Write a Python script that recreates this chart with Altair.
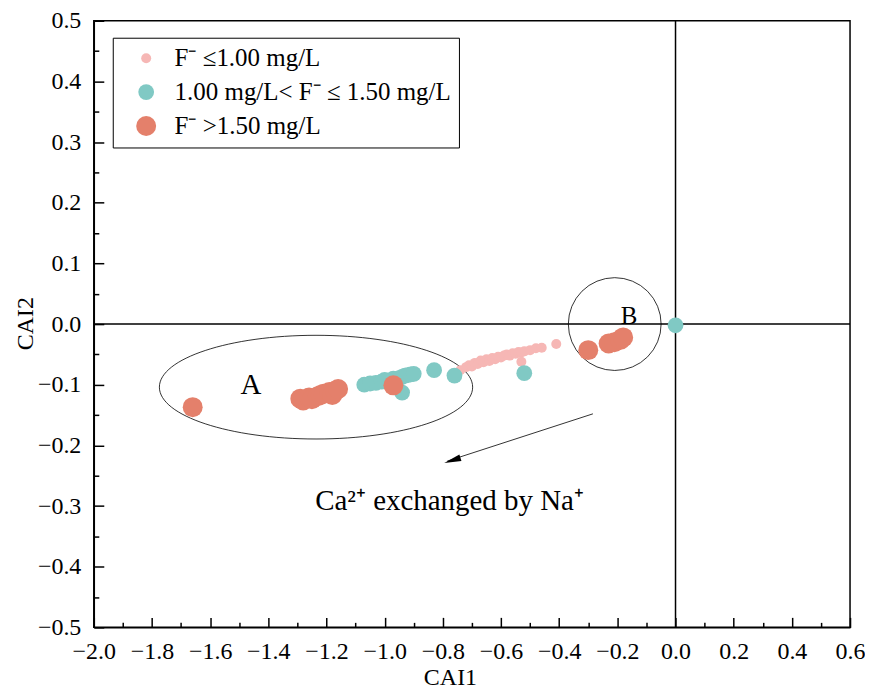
import altair as alt
import pandas as pd

# ---- data ----
cat_labels = ["F⁻ ≤1.00 mg/L", "1.00 mg/L< F⁻ ≤ 1.50 mg/L", "F⁻ >1.50 mg/L"]
colors = ["#F6B7B5", "#80C9C4", "#E4806B"]
size_range = [100, 400]

x_low = [-0.74, -0.72, -0.71, -0.70, -0.69, -0.68, -0.67, -0.66, -0.65, -0.64, -0.63, -0.62,
         -0.61, -0.60, -0.59, -0.58, -0.57, -0.56, -0.55, -0.54, -0.53, -0.52, -0.50, -0.48,
         -0.46, -0.41, -0.53]
y_low = [-0.076, -0.071, -0.068, -0.070, -0.064, -0.066, -0.060, -0.063, -0.058, -0.061, -0.056, -0.058,
         -0.054, -0.055, -0.052, -0.050, -0.052, -0.048, -0.049, -0.046, -0.047, -0.045, -0.043, -0.040,
         -0.039, -0.033, -0.062]

x_mid = [-1.07, -1.05, -1.03, -1.01, -1.00, -0.98, -0.97, -0.95, -0.94, -0.93, -0.92, -0.91,
         -0.90, -0.94, -0.83, -0.76, -0.52, 0.0]
y_mid = [-0.100, -0.098, -0.097, -0.095, -0.092, -0.093, -0.090, -0.089, -0.087, -0.085, -0.084, -0.083,
         -0.082, -0.113, -0.076, -0.085, -0.081, -0.002]

x_high = [-1.66, -1.29, -1.28, -1.26, -1.25, -1.23, -1.22, -1.21, -1.19, -1.18, -1.17, -1.16,
          -0.97, -0.30, -0.23, -0.21, -0.19, -0.18]
y_high = [-0.137, -0.123, -0.126, -0.121, -0.124, -0.119, -0.117, -0.115, -0.112, -0.117, -0.110, -0.107,
          -0.101, -0.043, -0.032, -0.030, -0.026, -0.022]

x_major = [-2.0, -1.8, -1.6, -1.4, -1.2, -1.0, -0.8, -0.6, -0.4, -0.2, 0.0, 0.2, 0.4, 0.6]
x_minor = [-1.9, -1.7, -1.5, -1.3, -1.1, -0.9, -0.7, -0.5, -0.3, -0.1, 0.1, 0.3, 0.5]
y_major = [-0.5, -0.4, -0.3, -0.2, -0.1, 0.0, 0.1, 0.2, 0.3, 0.4, 0.5]
y_minor = [-0.45, -0.35, -0.25, -0.15, -0.05, 0.05, 0.15, 0.25, 0.35, 0.45]

FONT = "Liberation Serif"

rows = []
for xs, ys, c in [(x_low, y_low, cat_labels[0]), (x_mid, y_mid, cat_labels[1]), (x_high, y_high, cat_labels[2])]:
    for a, b in zip(xs, ys):
        rows.append({"x": a, "y": b, "cat": c})
df = pd.DataFrame(rows)
one = pd.DataFrame({"k": [0]})

xsc = alt.Scale(domain=[-2.0, 0.6], nice=False, zero=False)
ysc = alt.Scale(domain=[-0.5, 0.5], nice=False, zero=False)

leg = alt.Legend(title=None, orient="none", legendX=19, legendY=17, strokeColor="black",
                 fillColor="white", padding=8, labelFont=FONT, labelFontSize=25, labelColor="black",
                 rowPadding=8, symbolOffset=13, labelOffset=16, symbolStrokeWidth=0, symbolOpacity=1,
                 symbolType="circle", labelLimit=500)

x_axis_major = alt.Axis(values=x_major, format=".1f", tickSize={"expr": "-10"}, labelPadding=22,
                        labelOverlap=False, labelFlush=False, orient="bottom", title="CAI1",
                        titleX=357, titleY=50, titleBaseline="middle", titleAlign="center", grid=False)
y_axis_major = alt.Axis(values=y_major, format=".1f", tickSize={"expr": "-10"}, labelPadding=23,
                        labelOverlap=False, labelFlush=False, orient="left", title="CAI2",
                        titleX=-68, titleY=303, titleBaseline="middle", titleAlign="center",
                        titleAngle=-90, grid=False)
x_axis_minor = alt.Axis(values=x_minor, tickSize={"expr": "-5"}, labels=False, domain=False,
                        orient="bottom", title=None, grid=False)
y_axis_minor = alt.Axis(values=y_minor, tickSize={"expr": "-5"}, labels=False, domain=False,
                        orient="left", title=None, grid=False)

points = alt.Chart(df).mark_circle(opacity=1).encode(
    x=alt.X("x:Q", scale=xsc, axis=x_axis_major),
    y=alt.Y("y:Q", scale=ysc, axis=y_axis_major),
    color=alt.Color("cat:N", scale=alt.Scale(domain=cat_labels, range=colors), legend=leg),
    size=alt.Size("cat:N", scale=alt.Scale(domain=cat_labels, range=size_range), legend=leg),
    order=alt.Order("idx:Q"),
).transform_window(idx="row_number()")

minor = alt.Chart(one).mark_point(opacity=0).encode(
    x=alt.XDatum(-1.0, scale=xsc, axis=x_axis_minor),
    y=alt.YDatum(0.0, scale=ysc, axis=y_axis_minor),
)

vline = alt.Chart(one).mark_rule(color="black", strokeWidth=1.5).encode(
    x=alt.XDatum(0.0, scale=xsc, axis=None))
hline = alt.Chart(one).mark_rule(color="black", strokeWidth=1.5).encode(
    y=alt.YDatum(0.0, scale=ysc, axis=None))

ellipse_path = "M -1 0 A 1 0.331 0 1 0 1 0 A 1 0.331 0 1 0 -1 0 Z"
ellipseA = alt.Chart(one).mark_point(shape=ellipse_path, filled=False, color="black",
                                     strokeWidth=0.8, opacity=1, size=98596).encode(
    x=alt.XDatum(-1.236, scale=xsc, axis=None), y=alt.YDatum(-0.104, scale=ysc, axis=None))
circleB = alt.Chart(one).mark_point(shape="circle", filled=False, color="black",
                                    strokeWidth=0.8, opacity=1, size=8649).encode(
    x=alt.XDatum(-0.209, scale=xsc, axis=None), y=alt.YDatum(0.0, scale=ysc, axis=None))

arrow = alt.Chart(one).mark_rule(color="black", strokeWidth=0.8).encode(
    x=alt.XDatum(-0.284, scale=xsc, axis=None), y=alt.YDatum(-0.148, scale=ysc, axis=None),
    x2=alt.X2Datum(-0.785), y2=alt.Y2Datum(-0.226))
head = alt.Chart(one).mark_point(shape="M 0 0 L -0.4 2 L 0.4 2 Z", filled=True, color="black",
                                 size=289, angle=252, opacity=1).encode(
    x=alt.XDatum(-0.795, scale=xsc, axis=None), y=alt.YDatum(-0.229, scale=ysc, axis=None))

textA = alt.Chart(one).mark_text(text="A", font=FONT, fontSize=29, color="black").encode(
    x=alt.XDatum(-1.46, scale=xsc, axis=None), y=alt.YDatum(-0.101, scale=ysc, axis=None))
textB = alt.Chart(one).mark_text(text="B", font=FONT, fontSize=25, color="black").encode(
    x=alt.XDatum(-0.16, scale=xsc, axis=None), y=alt.YDatum(0.013, scale=ysc, axis=None))
textCa = alt.Chart(one).mark_text(text="Ca²⁺ exchanged by Na⁺", font=FONT, fontSize=29,
                                  color="black").encode(
    x=alt.XDatum(-0.777, scale=xsc, axis=None), y=alt.YDatum(-0.292, scale=ysc, axis=None))

chart = alt.layer(
    minor, vline, hline, ellipseA, circleB, arrow, head, points, textA, textB, textCa
).resolve_axis(x="independent", y="independent").properties(
    width=758, height=608, autosize="none", background="white",
    padding={"left": 86, "top": 12, "right": 15, "bottom": 66},
).configure_view(stroke="black", strokeWidth=1.5).configure_axis(
    domainColor="black", domainWidth=1.5, tickColor="black", tickWidth=1.5,
    labelFont=FONT, labelFontSize=24, labelColor="black",
    titleFont=FONT, titleFontSize=24, titleColor="black", titleFontWeight="normal",
)

chart.save("out.html", embed_options={"renderer": "svg", "actions": False})
